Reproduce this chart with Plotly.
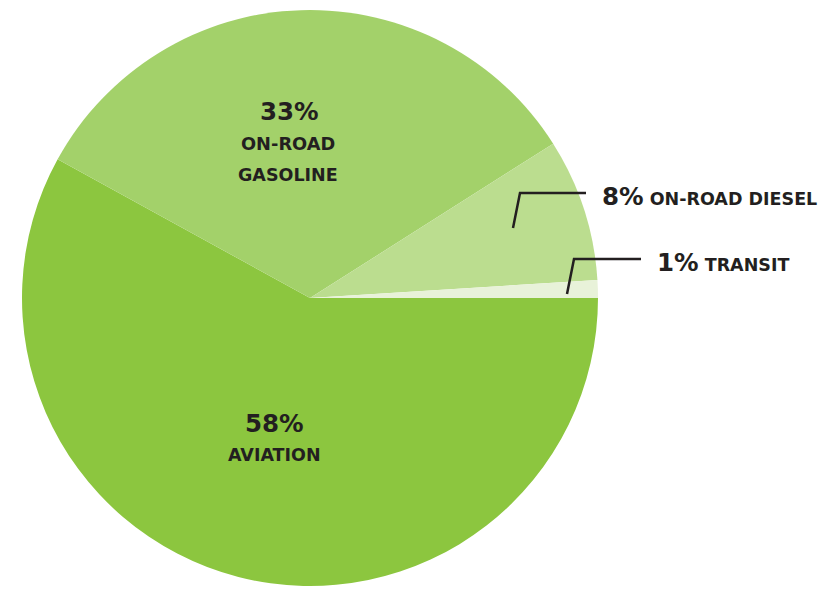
import plotly.graph_objects as go

# Share of transportation emissions by source
categories = ["AVIATION", "ON-ROAD GASOLINE", "ON-ROAD DIESEL", "TRANSIT"]
shares = [58, 33, 8, 1]
colors = ["#8CC63F", "#A3D16A", "#BBDD8F", "#E8F2D9"]

W, H = 824, 589
CX, CY, R = 310, 298, 288
TEXT = "#231F20"
FONT = "DejaVu Sans"


def px(x):
    return x / W


def py(y):
    return 1 - y / H


fig = go.Figure(
    go.Pie(
        labels=categories,
        values=shares,
        marker=dict(colors=colors, line=dict(width=0)),
        sort=False,
        direction="clockwise",
        rotation=90,
        textinfo="none",
        hoverinfo="label+percent",
        domain=dict(x=[px(CX - R), px(CX + R)], y=[py(CY + R), py(CY - R)]),
        showlegend=False,
    )
)

annotations = []
shapes = []


def label(x, y, text, size, anchor="center"):
    annotations.append(dict(
        x=px(x), y=py(y), xref="paper", yref="paper", showarrow=False,
        xanchor=anchor, yanchor="middle", text=f"<b>{text}</b>",
        font=dict(family=FONT, size=size, color=TEXT),
    ))


# Labels placed inside the two large slices
label(274, 423, f"{shares[0]}%", 24.5)
label(274, 455, "AVIATION", 17.5)
label(289, 111, f"{shares[1]}%", 24.5)
label(288, 144, "ON-ROAD", 17.8)
label(288, 175, "GASOLINE", 17.5)

# Callout labels with leader lines for the two small slices
callouts = [
    (shares[2], "ON-ROAD DIESEL", (513, 228), (520, 193), 586, 600, 196),
    (shares[3], "TRANSIT", (567, 294), (574, 259), 641, 655, 262),
]
for val, name, p0, p1, xend, tx, ty in callouts:
    path = (f"M {px(p0[0])},{py(p0[1])} L {px(p1[0])},{py(p1[1])} "
            f"L {px(xend)},{py(p1[1])}")
    shapes.append(dict(type="path", xref="paper", yref="paper", path=path,
                       line=dict(color=TEXT, width=2.5)))
    label(tx, ty,
          f"<span style='font-size:24.5px'>{val}%</span> {name}", 17.5,
          anchor="left")

fig.update_layout(
    width=W, height=H,
    margin=dict(l=0, r=0, t=0, b=0),
    paper_bgcolor="white",
    plot_bgcolor="white",
    annotations=annotations,
    shapes=shapes,
)

fig.write_html("out.html")
